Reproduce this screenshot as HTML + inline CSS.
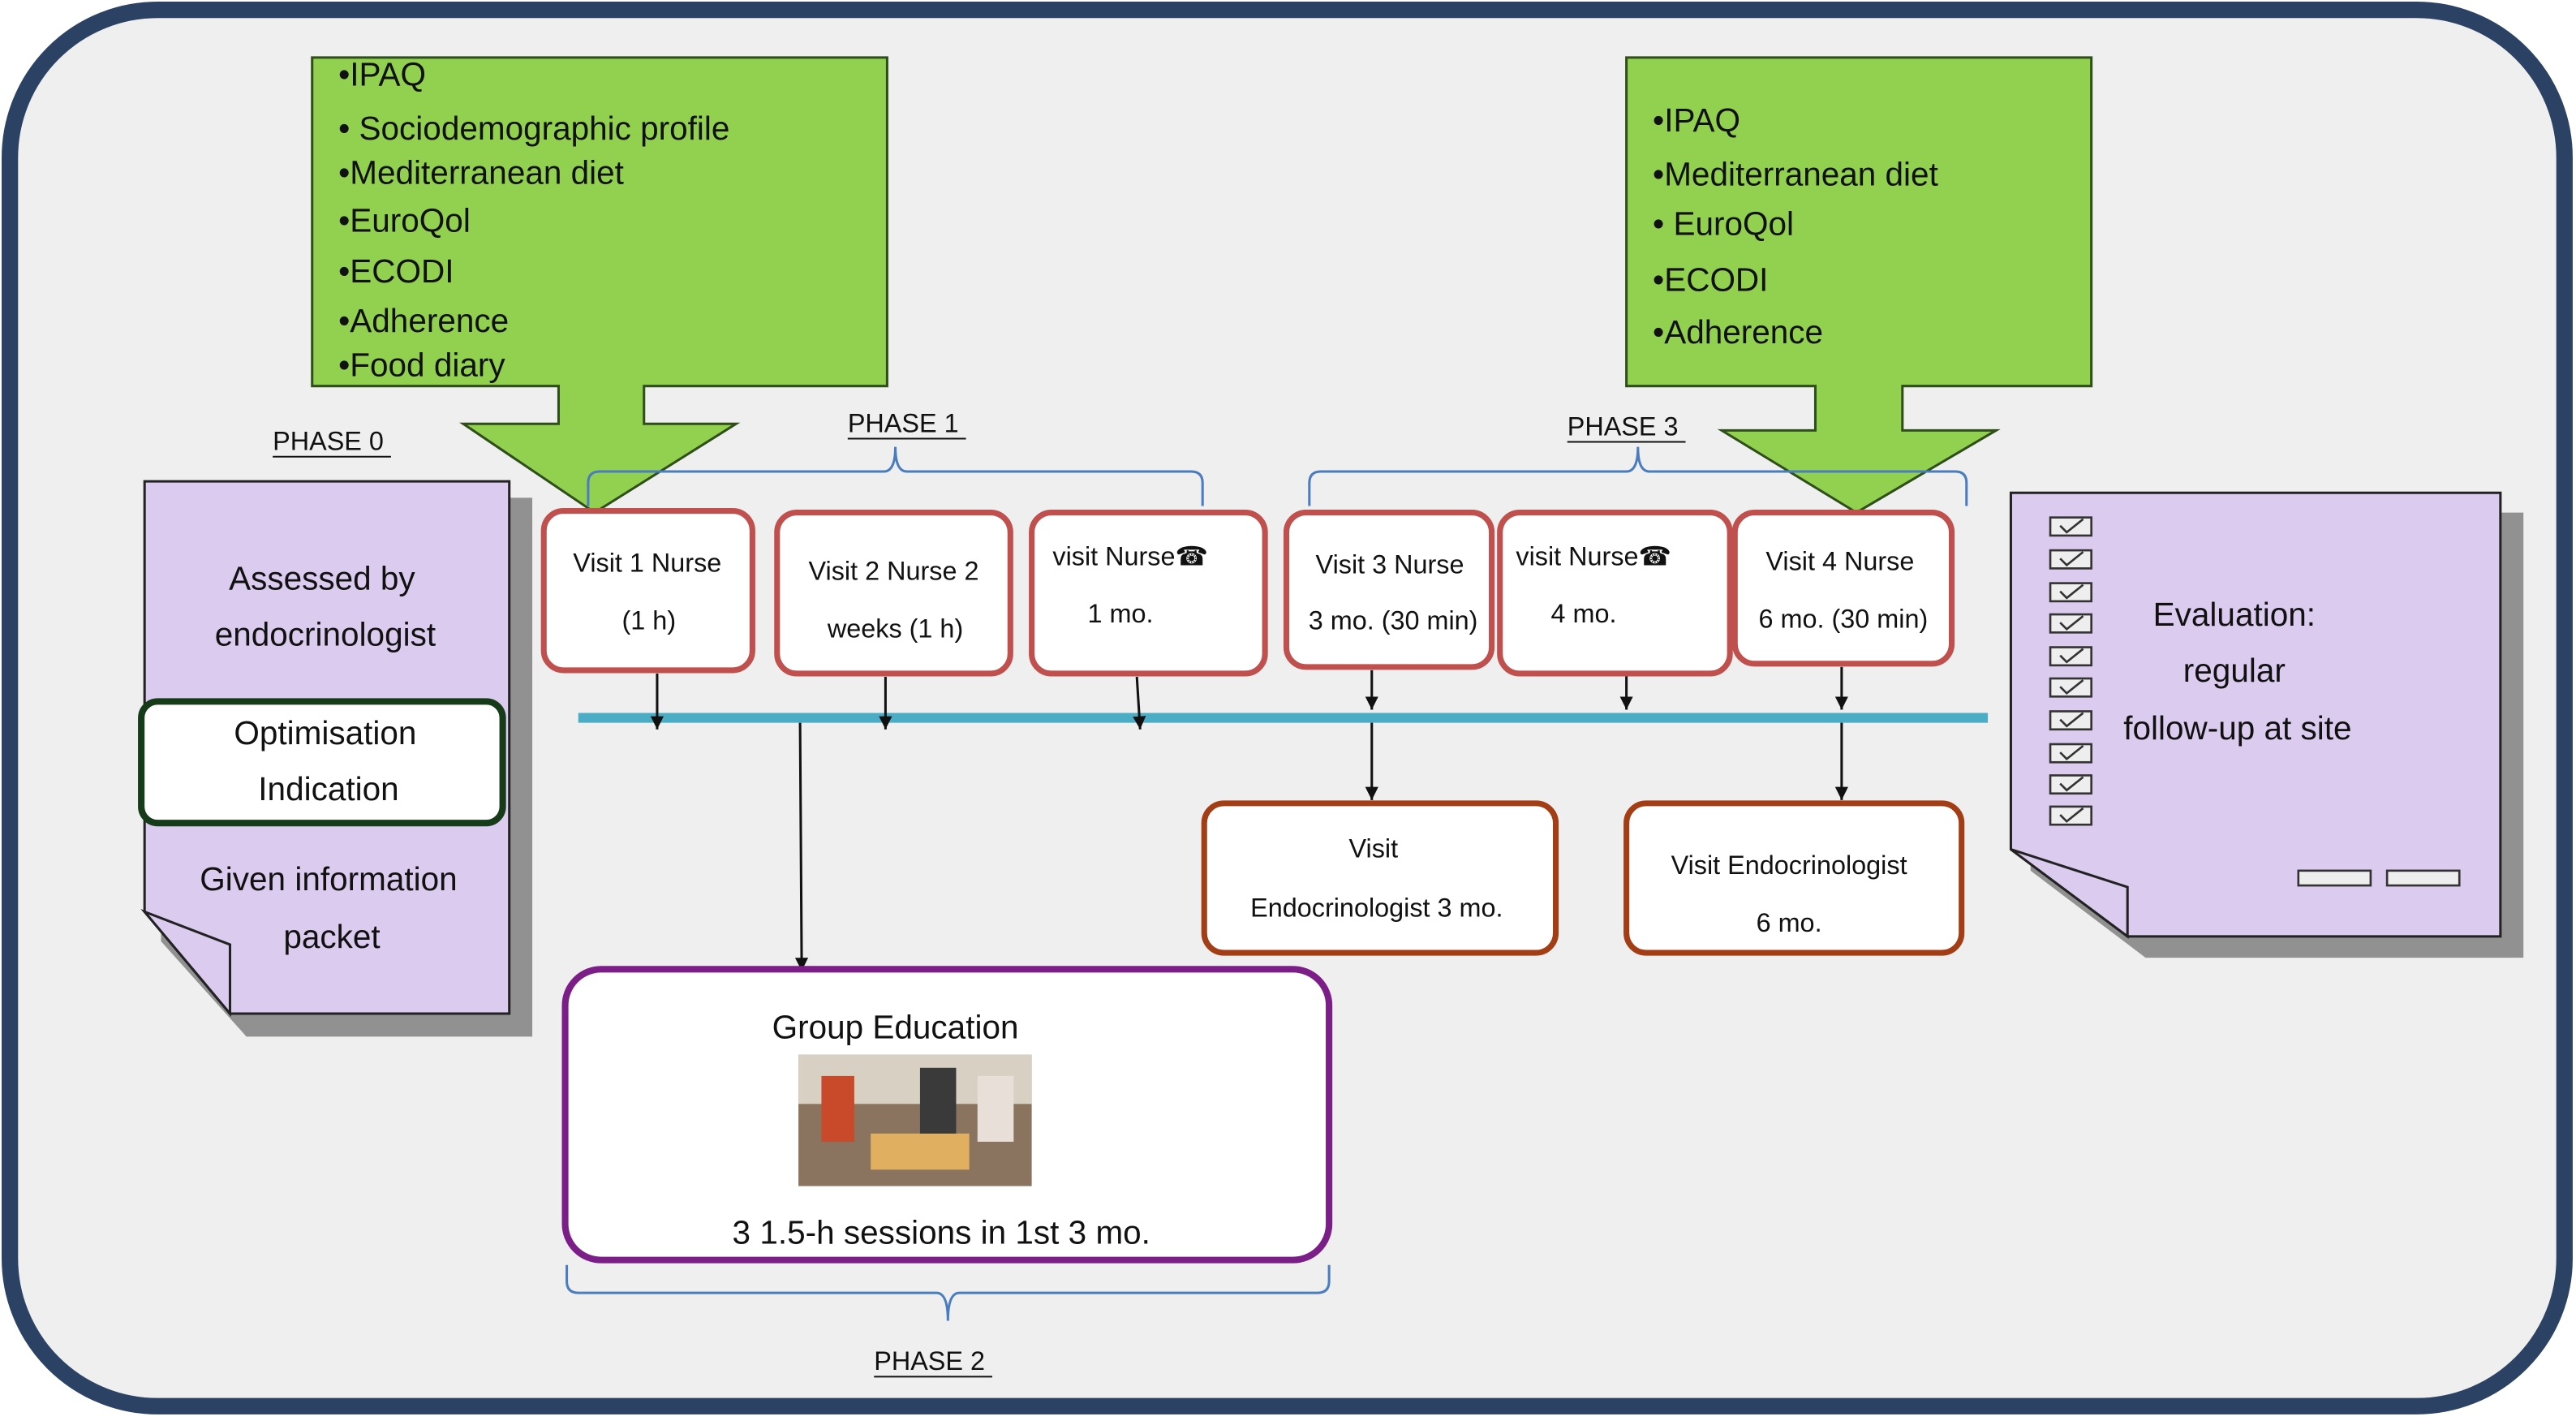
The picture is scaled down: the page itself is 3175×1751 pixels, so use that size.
<!DOCTYPE html>
<html><head><meta charset="utf-8"><style>
html,body{margin:0;padding:0;background:#fff;}
svg{display:block;}
text{font-family:"Liberation Sans",Arial,sans-serif;fill:#111;}
</style></head><body>
<svg width="3175" height="1751" viewBox="0 0 1568 865" preserveAspectRatio="none" xmlns="http://www.w3.org/2000/svg">
<defs>
<marker id="ah" markerWidth="9" markerHeight="9" refX="8" refY="4" orient="auto" markerUnits="userSpaceOnUse"><path d="M0,0 L8,4 L0,8 Z" fill="#111"/></marker>
</defs>
<rect x="0" y="0" width="1568" height="865" fill="#fff"/>
<rect x="6" y="6" width="1555" height="850" rx="90" fill="#efefef" stroke="#2b4264" stroke-width="10"/>

<path d="M190,35 H540 V235 H392 V258 H448 L362,312 L282,258 H340 V235 H190 Z" fill="#92d050" stroke="#2f4f1a" stroke-width="1.5"/>
<path d="M990,35 H1273 V235 H1158 V262 H1215 L1130,312 L1048,262 H1105 V235 H990 Z" fill="#92d050" stroke="#2f4f1a" stroke-width="1.5"/>
<g font-size="20">
<text x="206" y="52">•IPAQ</text>
<text x="206" y="85">•  Sociodemographic profile</text>
<text x="206" y="112">•Mediterranean diet</text>
<text x="206" y="141">•EuroQol</text>
<text x="206" y="172">•ECODI</text>
<text x="206" y="202">•Adherence</text>
<text x="206" y="229">•Food diary</text>
<text x="1006" y="80">•IPAQ</text>
<text x="1006" y="113">•Mediterranean diet</text>
<text x="1006" y="143">• EuroQol</text>
<text x="1006" y="177">•ECODI</text>
<text x="1006" y="209">•Adherence</text>
</g>

<g font-size="16">
<text x="166" y="274">PHASE 0</text><line x1="166" y1="278" x2="238" y2="278" stroke="#111"/>
<text x="516" y="263">PHASE 1</text><line x1="516" y1="267" x2="588" y2="267" stroke="#111"/>
<text x="954" y="265">PHASE 3</text><line x1="954" y1="269" x2="1026" y2="269" stroke="#111"/>
<text x="532" y="834">PHASE 2</text><line x1="532" y1="838" x2="604" y2="838" stroke="#111"/>
</g>
<g fill="none" stroke="#4a7cc0" stroke-width="1.5">
<path d="M358,308 V294 Q358,287 365,287 H538 Q545,287 545,272 Q545,287 552,287 H725 Q732,287 732,294 V308"/>
<path d="M797,308 V294 Q797,287 804,287 H990 Q997,287 997,272 Q997,287 1004,287 H1190 Q1197,287 1197,294 V308"/>
<path d="M345,770 V780 Q345,787 352,787 H570 Q577,787 577,804 Q577,787 584,787 H802 Q809,787 809,780 V770"/>
</g>

<path d="M98,303 H324 V631 H150 L98,573 Z" fill="#808080" opacity="0.85"/>
<path d="M88,293 H310 V617 H140 L88,555 Z" fill="#dacbef" stroke="#222" stroke-width="1.5"/>
<path d="M88,555 L140,617 L140,575 Z" fill="#dacbef" stroke="#222" stroke-width="1.5"/>
<g font-size="20" text-anchor="middle">
<text x="196" y="359">Assessed by</text>
<text x="198" y="393">endocrinologist</text>
<text x="200" y="542">Given information</text>
<text x="202" y="577">packet</text>
</g>
<rect x="86" y="427" width="220" height="74" rx="10" fill="#fff" stroke="#163b18" stroke-width="4"/>
<g font-size="20" text-anchor="middle">
<text x="198" y="453">Optimisation</text>
<text x="200" y="487">Indication</text>
</g>

<path d="M1236,312 H1536 V583 H1306 L1236,530 Z" fill="#808080" opacity="0.85"/>
<path d="M1224,300 H1522 V570 H1295 L1224,517 Z" fill="#dacbef" stroke="#222" stroke-width="1.5"/>
<path d="M1224,517 L1295,570 L1295,540 Z" fill="#dacbef" stroke="#222" stroke-width="1.5"/>
<g stroke="#333" stroke-width="1.3" fill="#eee">
<rect x="1248" y="315" width="25" height="11"/><rect x="1248" y="335" width="25" height="11"/><rect x="1248" y="355" width="25" height="11"/><rect x="1248" y="374" width="25" height="11"/><rect x="1248" y="394" width="25" height="11"/><rect x="1248" y="413" width="25" height="11"/><rect x="1248" y="433" width="25" height="11"/><rect x="1248" y="453" width="25" height="11"/><rect x="1248" y="472" width="25" height="11"/><rect x="1248" y="491" width="25" height="11"/>
<rect x="1399" y="530" width="44" height="9"/><rect x="1453" y="530" width="44" height="9"/>
</g>
<g stroke="#333" stroke-width="1.3" fill="none">
<path d="M1254,320 l4,4 l10,-8"/><path d="M1254,340 l4,4 l10,-8"/><path d="M1254,360 l4,4 l10,-8"/><path d="M1254,379 l4,4 l10,-8"/><path d="M1254,399 l4,4 l10,-8"/><path d="M1254,418 l4,4 l10,-8"/><path d="M1254,438 l4,4 l10,-8"/><path d="M1254,458 l4,4 l10,-8"/><path d="M1254,477 l4,4 l10,-8"/><path d="M1254,496 l4,4 l10,-8"/>
</g>
<g font-size="20" text-anchor="middle">
<text x="1360" y="381">Evaluation:</text>
<text x="1360" y="415">regular</text>
<text x="1362" y="450">follow-up at site</text>
</g>

<line x1="352" y1="437" x2="1210" y2="437" stroke="#4bacc6" stroke-width="6"/>

<g stroke="#111" stroke-width="1.5" marker-end="url(#ah)">
<line x1="400" y1="410" x2="400" y2="444"/>
<line x1="539" y1="412" x2="539" y2="444"/>
<line x1="692" y1="412" x2="694" y2="444"/>
<line x1="835" y1="408" x2="835" y2="432"/>
<line x1="990" y1="402" x2="990" y2="432"/>
<line x1="1121" y1="406" x2="1121" y2="432"/>
<line x1="835" y1="440" x2="835" y2="487"/>
<line x1="1121" y1="440" x2="1121" y2="487"/>
<line x1="487" y1="440" x2="488" y2="591"/>
</g>

<g fill="#fff" stroke="#c0504d" stroke-width="3.5">
<rect x="331" y="311" width="127" height="97" rx="12"/>
<rect x="473" y="312" width="142" height="98" rx="12"/>
<rect x="628" y="312" width="142" height="98" rx="12"/>
<rect x="783" y="312" width="125" height="94" rx="12"/>
<rect x="913" y="312" width="140" height="98" rx="12"/>
<rect x="1056" y="312" width="132" height="92" rx="12"/>
</g>
<g font-size="16" text-anchor="middle">
<text x="394" y="348">Visit 1 Nurse</text><text x="395" y="383">(1 h)</text>
<text x="544" y="353">Visit 2 Nurse 2</text><text x="545" y="388">weeks (1 h)</text>
<text x="688" y="344">visit Nurse☎</text><text x="682" y="379">1 mo.</text>
<text x="970" y="344">visit Nurse☎</text><text x="964" y="379">4 mo.</text>
<text x="846" y="349">Visit 3 Nurse</text><text x="848" y="383">3 mo. (30 min)</text>
<text x="1120" y="347">Visit 4 Nurse</text><text x="1122" y="382">6 mo. (30 min)</text>
</g>

<g fill="#fff" stroke="#a33d16" stroke-width="3.5">
<rect x="733" y="489" width="214" height="91" rx="12"/>
<rect x="990" y="489" width="204" height="91" rx="12"/>
</g>
<g font-size="16" text-anchor="middle">
<text x="836" y="522">Visit</text><text x="838" y="558">Endocrinologist 3 mo.</text>
<text x="1089" y="532">Visit Endocrinologist</text><text x="1089" y="567">6 mo.</text>
</g>

<rect x="344" y="590" width="465" height="177" rx="22" fill="#fff" stroke="#7b1e87" stroke-width="4"/>
<text x="545" y="632" font-size="20" text-anchor="middle">Group Education</text>
<rect x="486" y="642" width="142" height="80" fill="#8a7460"/>
<rect x="486" y="642" width="142" height="30" fill="#d9d0c4"/>
<rect x="530" y="690" width="60" height="22" fill="#e0b060"/>
<rect x="500" y="655" width="20" height="40" fill="#c84a2a"/>
<rect x="560" y="650" width="22" height="40" fill="#3a3a3a"/>
<rect x="595" y="655" width="22" height="40" fill="#e8e0d8"/>
<text x="573" y="757" font-size="20" text-anchor="middle">3 1.5-h sessions in 1st 3 mo.</text>
</svg>
</body></html>
